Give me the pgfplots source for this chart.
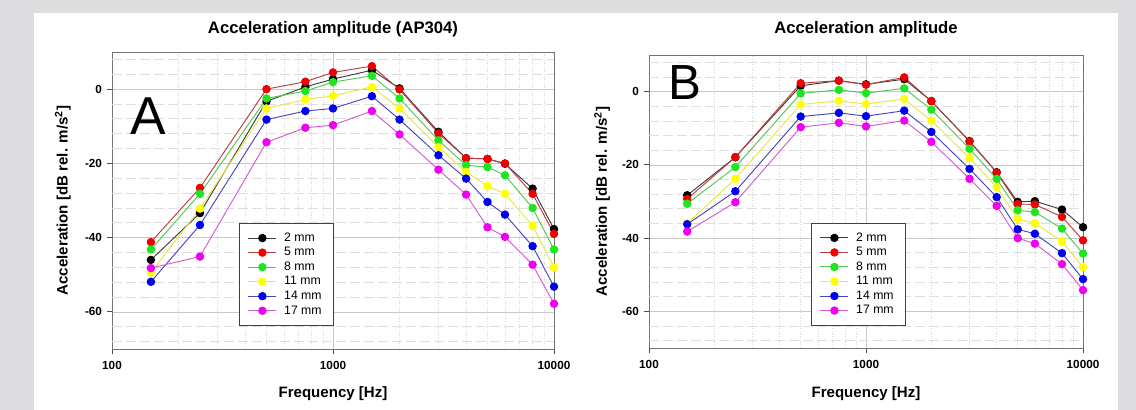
\documentclass[border=0pt]{standalone}
\usepackage{pgfplots}
\pgfplotsset{compat=1.18}
\usepackage{fontspec}
\setmainfont{Liberation Sans}

\definecolor{bgGray}{RGB}{221,221,223}
\definecolor{gMajor}{RGB}{200,200,200}
\definecolor{gMinor}{RGB}{222,222,222}
\definecolor{lBlack}{RGB}{60,60,60}
\definecolor{mRed}{RGB}{240,0,0}
\definecolor{lRed}{RGB}{190,60,60}
\definecolor{mGreen}{RGB}{30,230,30}
\definecolor{lGreen}{RGB}{80,200,80}
\definecolor{mYellow}{RGB}{255,255,0}
\definecolor{lYellow}{RGB}{232,232,60}
\definecolor{mBlue}{RGB}{0,0,240}
\definecolor{lBlue}{RGB}{70,70,190}
\definecolor{mMag}{RGB}{240,0,240}
\definecolor{lMag}{RGB}{210,90,210}

% frequency [Hz] and levels per gap width, panel A
\pgfplotstableread{
f     d2     d5     d8     d11    d14    d17
150   -46.0  -41.2  -43.2  -49.5  -51.9  -48.2
250   -33.4  -26.6  -28.2  -32.2  -36.6  -45.1
500   -3.3   0.0    -2.5   -5.2   -8.2   -14.3
750   0.6    2.0    -0.5   -2.8   -5.9   -10.4
1000  2.7    4.5    1.9    -1.8   -5.2   -9.7
1500  5.1    6.2    3.6    0.6    -1.9   -5.9
2000  0.2    -0.1   -2.5   -5.2   -8.2   -12.2
3000  -11.5  -11.9  -13.8  -15.6  -17.8  -21.7
4000  -18.6  -18.6  -20.5  -22.3  -24.1  -28.4
5000  -18.8  -18.8  -21.0  -26.1  -30.4  -37.2
6000  -20.1  -20.0  -23.2  -28.2  -33.8  -39.8
8000  -26.8  -28.2  -32.0  -36.8  -42.3  -47.3
10000 -37.7  -39.0  -43.2  -48.0  -53.2  -57.8
}\dataA

% panel B
\pgfplotstableread{
f     d2     d5     d8     d11    d14    d17
150   -28.3  -29.3  -30.6  -36.0  -36.2  -38.2
250   -17.9  -17.9  -20.6  -23.8  -27.2  -30.2
500   1.6    2.3    -0.5   -3.5   -6.8   -9.7
750   3.0    3.0    0.5    -2.5   -5.8   -8.5
1000  2.0    1.9    -0.4   -3.4   -6.7   -9.5
1500  3.4    3.9    0.9    -2.0   -5.2   -7.9
2000  -2.6   -2.6   -4.9   -7.9   -11.0  -13.7
3000  -13.5  -13.6  -15.6  -18.1  -21.1  -23.8
4000  -22.0  -22.1  -23.8  -26.1  -28.8  -31.2
5000  -30.1  -30.7  -32.4  -34.8  -37.6  -40.0
6000  -29.9  -30.8  -32.9  -35.9  -38.8  -41.5
8000  -32.2  -34.2  -37.4  -40.9  -44.1  -47.1
10000 -37.0  -40.6  -44.2  -47.9  -51.2  -54.2
}\dataB

\begin{document}
\begin{tikzpicture}
\fill[bgGray] (0pt,0pt) rectangle (852pt,-307.5pt);
\fill[white] (25.5pt,-9.75pt) rectangle (838.5pt,-307.5pt);

\begin{axis}[
  scale only axis,
  at={(84pt,-261.75pt)}, anchor=south west,
  width=331.5pt, height=222.75pt,
  xmode=log, xmin=100, xmax=10000, ymin=-70, ymax=10,
  xtick={100,1000,10000}, xticklabels={100,1000,10000},
  ytick={-60,-40,-20,0}, yticklabels={-60,-40,-20,0},
  xmajorgrids, xminorgrids, ymajorgrids,
  major grid style={gMajor, line width=0.5pt},
  minor grid style={gMinor, line width=0.5pt, dash pattern=on 1pt off 1pt},
  extra y ticks={-68,-64,-56,-52,-48,-44,-36,-32,-28,-24,-16,-12,-8,-4,4,8},
  extra y tick labels={},
  extra y tick style={grid=major, major tick length=0pt,
    major grid style={gMinor, line width=0.6pt, dash pattern=on 7.5pt off 3pt}},
  tick align=outside, tick pos=left,
  major tick length=4pt, minor tick length=0pt,
  tick style={black!70, line width=0.6pt},
  axis line style={black!55, line width=0.6pt},
  ticklabel style={font=\bfseries\fontsize{8.8}{10}\selectfont},
  xticklabel style={yshift=-2pt},
  label style={font=\bfseries\fontsize{11.3}{13}\selectfont},
  title style={font=\bfseries\fontsize{12.5}{14}\selectfont, anchor=center, at={(0.5,1.051)}},
  title={Acceleration amplitude (AP304)},
  xlabel={Frequency [Hz]},
  ylabel={Acceleration [dB rel. m/s\textsuperscript{2}]},
  xlabel style={at={(0.5,-0.151)}, anchor=center},
  ylabel style={at={(-0.111,0.5)}, anchor=center},
  legend cell align=left,
  legend style={at={(0.287,0.424)}, anchor=north west,
    draw=black!75, line width=0.6pt,
    font=\fontsize{9.2}{10}\selectfont,
    inner xsep=6.5pt, inner ysep=5.5pt, row sep=0pt,
    /tikz/every odd column/.style={column sep=3pt},
    nodes={inner xsep=2.5pt, inner ysep=1pt, text height=6.9pt, text depth=2.0pt}},
  legend image code/.code={
    \draw[mark repeat=2,mark phase=2] plot coordinates {(0pt,0pt)(10.5pt,0pt)(21pt,0pt)};},
  every axis plot/.append style={line width=0.7pt, mark=*, mark size=2.8pt},
  ]
  \addplot[color=lBlack, mark options={draw=black, fill=black, solid}] table[x=f,y=d2] {\dataA};
  \addlegendentry{2 mm}
  \addplot[color=lRed, mark options={draw=mRed, fill=mRed, solid}] table[x=f,y=d5] {\dataA};
  \addlegendentry{5 mm}
  \addplot[color=lGreen, mark options={draw=mGreen, fill=mGreen, solid}] table[x=f,y=d8] {\dataA};
  \addlegendentry{8 mm}
  \addplot[color=lYellow, mark options={draw=mYellow, fill=mYellow, solid}] table[x=f,y=d11] {\dataA};
  \addlegendentry{11 mm}
  \addplot[color=lBlue, mark options={draw=mBlue, fill=mBlue, solid}] table[x=f,y=d14] {\dataA};
  \addlegendentry{14 mm}
  \addplot[color=lMag, mark options={draw=mMag, fill=mMag, solid}] table[x=f,y=d17] {\dataA};
  \addlegendentry{17 mm}
\end{axis}

\begin{axis}[
  scale only axis,
  at={(486.75pt,-261pt)}, anchor=south west,
  width=325.5pt, height=219.75pt,
  xmode=log, xmin=100, xmax=10000, ymin=-70, ymax=10,
  xtick={100,1000,10000}, xticklabels={100,1000,10000},
  ytick={-60,-40,-20,0}, yticklabels={-60,-40,-20,0},
  xmajorgrids, xminorgrids, ymajorgrids,
  major grid style={gMajor, line width=0.5pt},
  minor grid style={gMinor, line width=0.5pt, dash pattern=on 1pt off 1pt},
  extra y ticks={-68,-64,-56,-52,-48,-44,-36,-32,-28,-24,-16,-12,-8,-4,4,8},
  extra y tick labels={},
  extra y tick style={grid=major, major tick length=0pt,
    major grid style={gMinor, line width=0.6pt, dash pattern=on 7.5pt off 3pt}},
  tick align=outside, tick pos=left,
  major tick length=4pt, minor tick length=0pt,
  tick style={black!70, line width=0.6pt},
  axis line style={black!55, line width=0.6pt},
  ticklabel style={font=\bfseries\fontsize{8.8}{10}\selectfont},
  xticklabel style={yshift=-2pt},
  label style={font=\bfseries\fontsize{11.3}{13}\selectfont},
  title style={font=\bfseries\fontsize{12.5}{14}\selectfont, anchor=center, at={(0.5,1.062)}},
  title={Acceleration amplitude},
  xlabel={Frequency [Hz]},
  ylabel={Acceleration [dB rel. m/s\textsuperscript{2}]},
  xlabel style={at={(0.5,-0.157)}, anchor=center},
  ylabel style={at={(-0.108,0.5)}, anchor=center},
  legend cell align=left,
  legend style={at={(0.373,0.427)}, anchor=north west,
    draw=black!75, line width=0.6pt,
    font=\fontsize{9.2}{10}\selectfont,
    inner xsep=6.5pt, inner ysep=5.5pt, row sep=0pt,
    /tikz/every odd column/.style={column sep=3pt},
    nodes={inner xsep=2.5pt, inner ysep=1pt, text height=6.9pt, text depth=2.0pt}},
  legend image code/.code={
    \draw[mark repeat=2,mark phase=2] plot coordinates {(0pt,0pt)(10.5pt,0pt)(21pt,0pt)};},
  every axis plot/.append style={line width=0.7pt, mark=*, mark size=2.8pt},
  ]
  \addplot[color=lBlack, mark options={draw=black, fill=black, solid}] table[x=f,y=d2] {\dataB};
  \addlegendentry{2 mm}
  \addplot[color=lRed, mark options={draw=mRed, fill=mRed, solid}] table[x=f,y=d5] {\dataB};
  \addlegendentry{5 mm}
  \addplot[color=lGreen, mark options={draw=mGreen, fill=mGreen, solid}] table[x=f,y=d8] {\dataB};
  \addlegendentry{8 mm}
  \addplot[color=lYellow, mark options={draw=mYellow, fill=mYellow, solid}] table[x=f,y=d11] {\dataB};
  \addlegendentry{11 mm}
  \addplot[color=lBlue, mark options={draw=mBlue, fill=mBlue, solid}] table[x=f,y=d14] {\dataB};
  \addlegendentry{14 mm}
  \addplot[color=lMag, mark options={draw=mMag, fill=mMag, solid}] table[x=f,y=d17] {\dataB};
  \addlegendentry{17 mm}
\end{axis}

\node[anchor=base west, inner sep=0pt, font=\fontsize{40}{40}\selectfont] at (98pt,-100.7pt) {A};
\node[anchor=base west, inner sep=0pt, font=\fontsize{37}{37}\selectfont] at (501pt,-75pt) {B};
\end{tikzpicture}
\end{document}
